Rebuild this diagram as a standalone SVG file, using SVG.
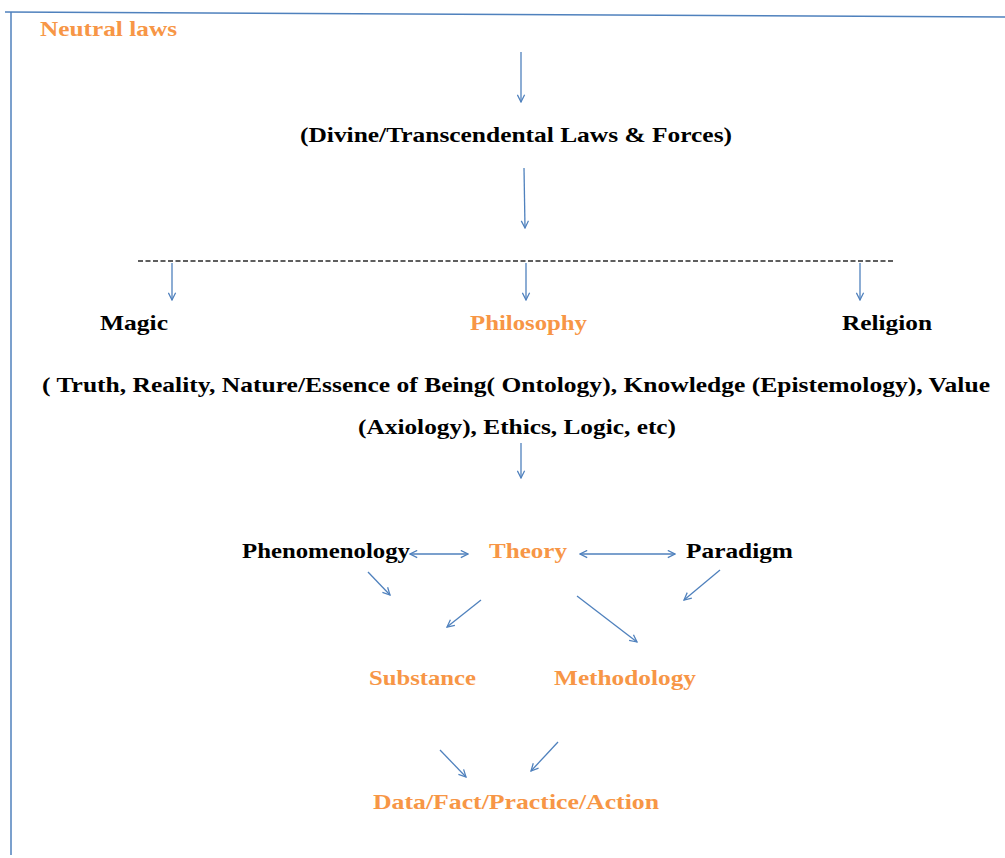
<svg xmlns="http://www.w3.org/2000/svg" width="1005" height="858" viewBox="0 0 1005 858">
<style>
.t{font-family:"Liberation Serif","Times New Roman",serif;font-weight:bold;font-size:22px;}
.o{fill:#F79646;}
.k{fill:#000;}
.c{stroke:#4F81BD;stroke-width:1.3;fill:none;}
</style>
<defs>
<marker id="ah" viewBox="0 0 10 10" refX="9" refY="5" markerWidth="9" markerHeight="9" markerUnits="userSpaceOnUse" orient="auto-start-reverse">
<path d="M1,1 L9,5 L1,9" fill="none" stroke="#4F81BD" stroke-width="1.4"/>
</marker>
</defs>
<rect width="1005" height="858" fill="#fff"/>
<g id="frame">
<line x1="5" y1="12" x2="1005" y2="17" stroke="#4F81BD" stroke-width="1.5"/>
<line x1="11" y1="12" x2="11" y2="855" stroke="#4F81BD" stroke-width="1.5"/>
</g>
<g id="connectors">
<line class="c" x1="521" y1="52" x2="521" y2="102" marker-end="url(#ah)"/>
<line class="c" x1="524" y1="168" x2="525" y2="228" marker-end="url(#ah)"/>
<line x1="138" y1="261" x2="895" y2="261" stroke="#2a2a2a" stroke-width="1.3" stroke-dasharray="5,2.5"/>
<line class="c" x1="172" y1="263" x2="172" y2="300" marker-end="url(#ah)"/>
<line class="c" x1="526" y1="263" x2="526" y2="300" marker-end="url(#ah)"/>
<line class="c" x1="860" y1="263" x2="860" y2="300" marker-end="url(#ah)"/>
<line class="c" x1="521" y1="443" x2="521" y2="478" marker-end="url(#ah)"/>
<line class="c" x1="410" y1="554" x2="468" y2="554" marker-start="url(#ah)" marker-end="url(#ah)"/>
<line class="c" x1="580" y1="554" x2="675" y2="554" marker-start="url(#ah)" marker-end="url(#ah)"/>
<line class="c" x1="368" y1="572" x2="390" y2="595" marker-end="url(#ah)"/>
<line class="c" x1="481" y1="600" x2="447" y2="627" marker-end="url(#ah)"/>
<line class="c" x1="577" y1="596" x2="637" y2="642" marker-end="url(#ah)"/>
<line class="c" x1="720" y1="570" x2="684" y2="600" marker-end="url(#ah)"/>
<line class="c" x1="440" y1="750" x2="466" y2="777" marker-end="url(#ah)"/>
<line class="c" x1="558" y1="742" x2="531" y2="771" marker-end="url(#ah)"/>
</g>
<g id="neutral"><text class="t o" x="40" y="36" textLength="137" lengthAdjust="spacingAndGlyphs">Neutral laws</text></g>
<g id="divine"><text class="t k" x="300" y="142" textLength="432" lengthAdjust="spacingAndGlyphs">(Divine/Transcendental Laws &amp; Forces)</text></g>
<g id="magic"><text class="t k" x="100" y="330" textLength="68" lengthAdjust="spacingAndGlyphs">Magic</text></g>
<g id="philosophy"><text class="t o" x="470" y="330" textLength="117" lengthAdjust="spacingAndGlyphs">Philosophy</text></g>
<g id="religion"><text class="t k" x="842" y="330" textLength="90" lengthAdjust="spacingAndGlyphs">Religion</text></g>
<g id="topics">
<text class="t k" x="42" y="392" textLength="948" lengthAdjust="spacingAndGlyphs">( Truth, Reality, Nature/Essence of Being( Ontology), Knowledge (Epistemology), Value</text>
<text class="t k" x="358" y="434" textLength="318" lengthAdjust="spacingAndGlyphs">(Axiology), Ethics, Logic, etc)</text>
</g>
<g id="phenomenology"><text class="t k" x="242" y="558" textLength="168" lengthAdjust="spacingAndGlyphs">Phenomenology</text></g>
<g id="theory"><text class="t o" x="489" y="558" textLength="78" lengthAdjust="spacingAndGlyphs">Theory</text></g>
<g id="paradigm"><text class="t k" x="686" y="558" textLength="107" lengthAdjust="spacingAndGlyphs">Paradigm</text></g>
<g id="substance"><text class="t o" x="369" y="685" textLength="107" lengthAdjust="spacingAndGlyphs">Substance</text></g>
<g id="methodology"><text class="t o" x="554" y="685" textLength="142" lengthAdjust="spacingAndGlyphs">Methodology</text></g>
<g id="data"><text class="t o" x="373" y="809" textLength="286" lengthAdjust="spacingAndGlyphs">Data/Fact/Practice/Action</text></g>
</svg>
